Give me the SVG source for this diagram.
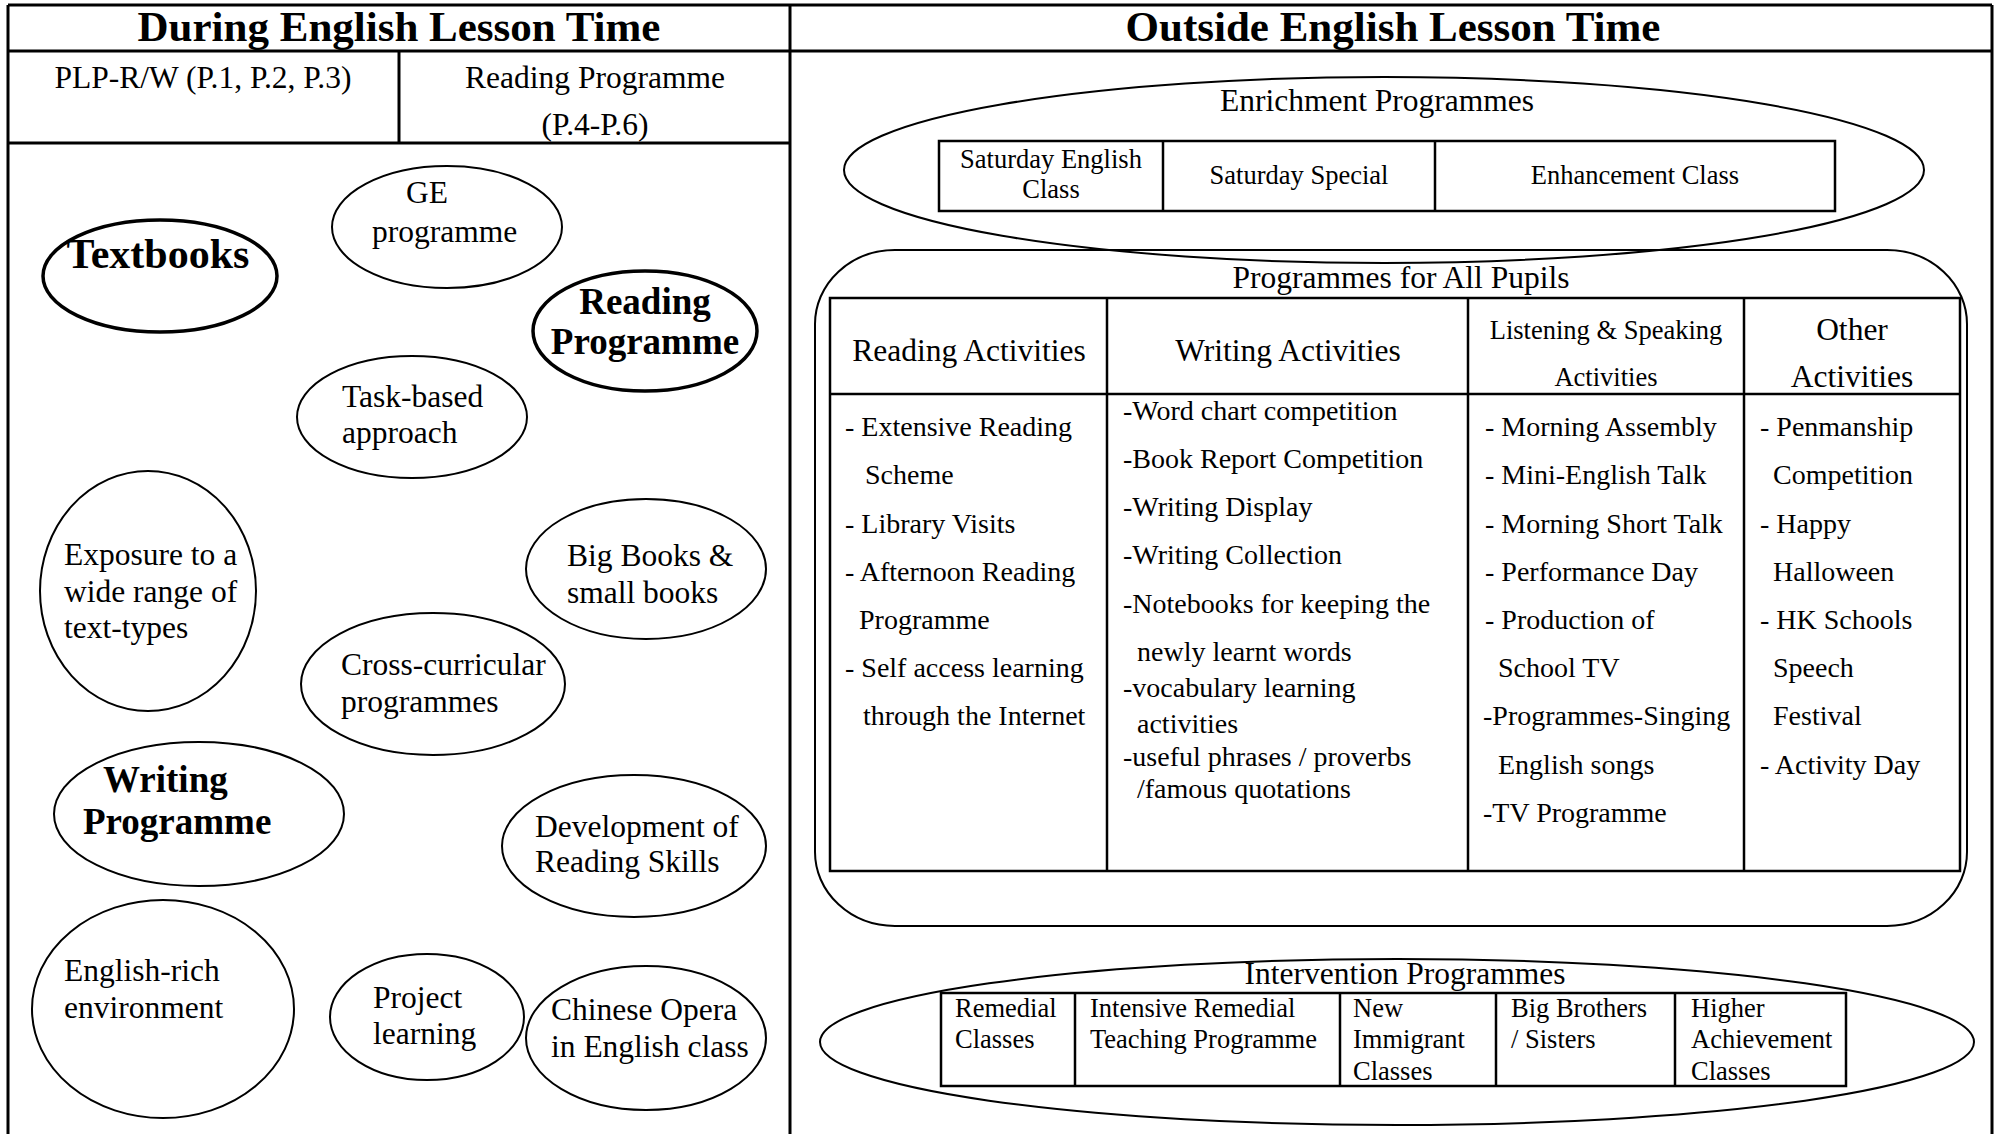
<svg xmlns="http://www.w3.org/2000/svg" width="2005" height="1134" viewBox="0 0 2005 1134">
<style>
.t{font-family:"Liberation Serif","Times New Roman",serif;fill:#000}
.b{font-weight:bold}
.c{text-anchor:middle}
.s42{font-size:43px}
.s37{font-size:37px}
.s41{font-size:42px}
.s32{font-size:31.5px}
.s28{font-size:28px}
.s26{font-size:26.5px}
.ln{stroke:#000;stroke-width:3;fill:none}
.el{fill:none;stroke:#000;stroke-width:2}
.elb{fill:none;stroke:#000;stroke-width:3.5}
.tb{fill:none;stroke:#000;stroke-width:2.5}
</style>
<rect width="2005" height="1134" fill="#fff"/>

<g id="frame">
  <line class="ln" x1="8" y1="5" x2="1992" y2="5"/>
  <line class="ln" x1="8" y1="5" x2="8" y2="1134"/>
  <line class="ln" x1="1992" y1="5" x2="1992" y2="1134"/>
  <line class="ln" x1="790" y1="5" x2="790" y2="1134"/>
  <line class="ln" x1="8" y1="51" x2="1992" y2="51"/>
  <line class="ln" x1="399" y1="51" x2="399" y2="143"/>
  <line class="ln" x1="8" y1="143" x2="790" y2="143"/>
  <text class="t b s42 c" x="399" y="41">During English Lesson Time</text>
  <text class="t b s42 c" x="1393" y="41">Outside English Lesson Time</text>
  <text class="t s32 c" x="203" y="88">PLP-R/W (P.1, P.2, P.3)</text>
  <text class="t s32 c" x="595" y="88">Reading Programme</text>
  <text class="t s32 c" x="595" y="135">(P.4-P.6)</text>
</g>

<g id="connectors"></g>

<g id="textbooks">
  <ellipse class="elb" cx="160" cy="276" rx="117" ry="56"/>
  <text class="t b s41 c" x="158" y="268">Textbooks</text>
</g>
<g id="ge-programme">
  <ellipse class="el" cx="447" cy="227" rx="115" ry="61"/>
  <text class="t s32" x="406" y="203">GE</text>
  <text class="t s32" x="372" y="242">programme</text>
</g>
<g id="reading-programme">
  <ellipse class="elb" cx="645" cy="331" rx="112" ry="60"/>
  <text class="t b s37 c" x="645" y="314">Reading</text>
  <text class="t b s37 c" x="645" y="354">Programme</text>
</g>
<g id="task-based">
  <ellipse class="el" cx="412" cy="417" rx="115" ry="61"/>
  <text class="t s32" x="342" y="407">Task-based</text>
  <text class="t s32" x="342" y="443">approach</text>
</g>
<g id="exposure">
  <ellipse class="el" cx="148" cy="591" rx="108" ry="120"/>
  <text class="t s32" x="64" y="565">Exposure to a</text>
  <text class="t s32" x="64" y="602">wide range of</text>
  <text class="t s32" x="64" y="638">text-types</text>
</g>
<g id="big-books">
  <ellipse class="el" cx="646" cy="569" rx="120" ry="70"/>
  <text class="t s32" x="567" y="566">Big Books &amp;</text>
  <text class="t s32" x="567" y="603">small books</text>
</g>
<g id="cross-curricular">
  <ellipse class="el" cx="433" cy="684" rx="132" ry="71"/>
  <text class="t s32" x="341" y="675">Cross-curricular</text>
  <text class="t s32" x="341" y="712">programmes</text>
</g>
<g id="writing-programme">
  <ellipse class="el" cx="199" cy="814" rx="145" ry="72"/>
  <text class="t b s37" x="103" y="792">Writing</text>
  <text class="t b s37" x="83" y="834">Programme</text>
</g>
<g id="reading-skills">
  <ellipse class="el" cx="634" cy="846" rx="132" ry="71"/>
  <text class="t s32" x="535" y="837">Development of</text>
  <text class="t s32" x="535" y="872">Reading Skills</text>
</g>
<g id="english-rich">
  <ellipse class="el" cx="163" cy="1009" rx="131" ry="109"/>
  <text class="t s32" x="64" y="981">English-rich</text>
  <text class="t s32" x="64" y="1018">environment</text>
</g>
<g id="project-learning">
  <ellipse class="el" cx="427" cy="1017" rx="97" ry="63"/>
  <text class="t s32" x="373" y="1008">Project</text>
  <text class="t s32" x="373" y="1044">learning</text>
</g>
<g id="chinese-opera">
  <ellipse class="el" cx="646" cy="1038" rx="120" ry="72"/>
  <text class="t s32" x="551" y="1020">Chinese Opera</text>
  <text class="t s32" x="551" y="1057">in English class</text>
</g>

<g id="enrichment">
  <ellipse class="el" cx="1384" cy="170" rx="540" ry="93" stroke-width="2.5"/>
  <text class="t s32 c" x="1377" y="111">Enrichment Programmes</text>
  <rect class="tb" x="939" y="141" width="896" height="70"/>
  <line class="tb" x1="1163" y1="141" x2="1163" y2="211"/>
  <line class="tb" x1="1435" y1="141" x2="1435" y2="211"/>
  <text class="t s26 c" x="1051" y="168">Saturday English</text>
  <text class="t s26 c" x="1051" y="198">Class</text>
  <text class="t s26 c" x="1299" y="184">Saturday Special</text>
  <text class="t s26 c" x="1635" y="184">Enhancement Class</text>
</g>

<g id="all-pupils">
  <rect class="el" x="815" y="250" width="1152" height="676" rx="80" ry="74"/>
  <text class="t s32 c" x="1401" y="288">Programmes for All Pupils</text>
  <rect class="tb" x="830" y="298" width="1130" height="573"/>
  <line class="tb" x1="830" y1="394" x2="1960" y2="394"/>
  <line class="tb" x1="1107" y1="298" x2="1107" y2="871"/>
  <line class="tb" x1="1468" y1="298" x2="1468" y2="871"/>
  <line class="tb" x1="1744" y1="298" x2="1744" y2="871"/>
  <text class="t s32 c" x="969" y="361">Reading Activities</text>
  <text class="t s32 c" x="1288" y="361">Writing Activities</text>
  <text class="t s26 c" x="1606" y="339">Listening &amp; Speaking</text>
  <text class="t s26 c" x="1606" y="386">Activities</text>
  <text class="t s32 c" x="1852" y="340">Other</text>
  <text class="t s32 c" x="1852" y="387">Activities</text>

  <g class="t s28">
    <text x="845" y="436">- Extensive Reading</text>
    <text x="865" y="484">Scheme</text>
    <text x="845" y="533">- Library Visits</text>
    <text x="845" y="581">- Afternoon Reading</text>
    <text x="859" y="629">Programme</text>
    <text x="845" y="677">- Self access learning</text>
    <text x="863" y="725">through the Internet</text>

    <text x="1123" y="420">-Word chart competition</text>
    <text x="1123" y="468">-Book Report Competition</text>
    <text x="1123" y="516">-Writing Display</text>
    <text x="1123" y="564">-Writing Collection</text>
    <text x="1123" y="613">-Notebooks for keeping the</text>
    <text x="1137" y="661">newly learnt words</text>
    <text x="1123" y="697">-vocabulary learning</text>
    <text x="1137" y="733">activities</text>
    <text x="1123" y="766">-useful phrases / proverbs</text>
    <text x="1137" y="798">/famous quotations</text>

    <text x="1485" y="436">- Morning Assembly</text>
    <text x="1485" y="484">- Mini-English Talk</text>
    <text x="1485" y="533">- Morning Short Talk</text>
    <text x="1485" y="581">- Performance Day</text>
    <text x="1485" y="629">- Production of</text>
    <text x="1498" y="677">School TV</text>
    <text x="1483" y="725">-Programmes-Singing</text>
    <text x="1498" y="774">English songs</text>
    <text x="1483" y="822">-TV Programme</text>

    <text x="1760" y="436">- Penmanship</text>
    <text x="1773" y="484">Competition</text>
    <text x="1760" y="533">- Happy</text>
    <text x="1773" y="581">Halloween</text>
    <text x="1760" y="629">- HK Schools</text>
    <text x="1773" y="677">Speech</text>
    <text x="1773" y="725">Festival</text>
    <text x="1760" y="774">- Activity Day</text>
  </g>
</g>

<g id="intervention">
  <ellipse class="el" cx="1397" cy="1042" rx="577" ry="83" stroke-width="2.5"/>
  <text class="t s32 c" x="1405" y="984">Intervention Programmes</text>
  <rect class="tb" x="941" y="993" width="905" height="93"/>
  <line class="tb" x1="1075" y1="993" x2="1075" y2="1086"/>
  <line class="tb" x1="1340" y1="993" x2="1340" y2="1086"/>
  <line class="tb" x1="1496" y1="993" x2="1496" y2="1086"/>
  <line class="tb" x1="1675" y1="993" x2="1675" y2="1086"/>
  <g class="t s26">
    <text x="955" y="1017">Remedial</text>
    <text x="955" y="1048">Classes</text>
    <text x="1090" y="1017">Intensive Remedial</text>
    <text x="1090" y="1048">Teaching Programme</text>
    <text x="1353" y="1017">New</text>
    <text x="1353" y="1048">Immigrant</text>
    <text x="1353" y="1080">Classes</text>
    <text x="1511" y="1017">Big Brothers</text>
    <text x="1511" y="1048">/ Sisters</text>
    <text x="1691" y="1017">Higher</text>
    <text x="1691" y="1048">Achievement</text>
    <text x="1691" y="1080">Classes</text>
  </g>
</g>
</svg>
